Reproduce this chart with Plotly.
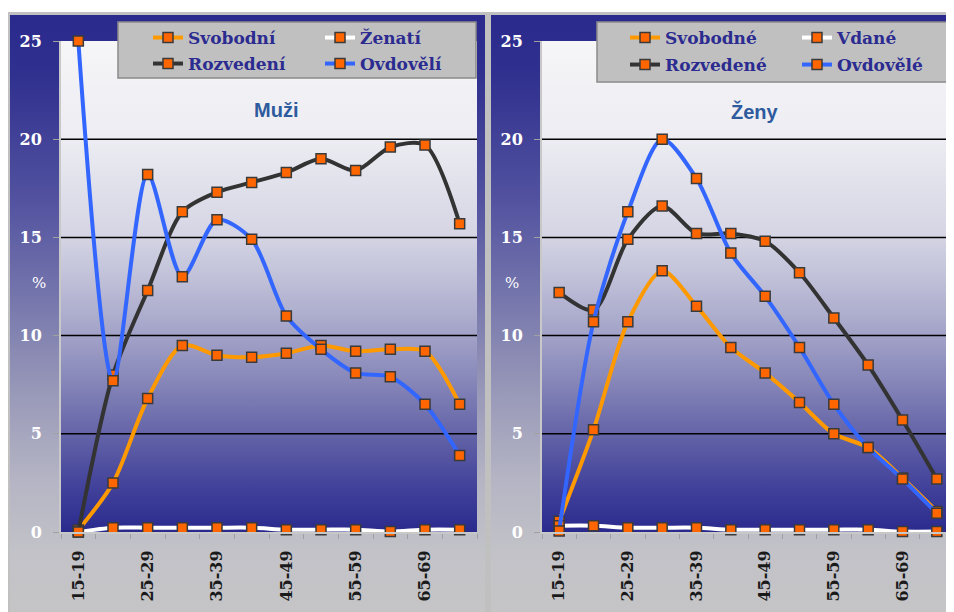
import base64
import plotly.graph_objects as go

# ---------------- data ----------------
categories = ["15-19", "20-24", "25-29", "30-34", "35-39", "40-44",
              "45-49", "50-54", "55-59", "60-64", "65-69", "70-74"]
tick_labels = ["15-19", "", "25-29", "", "35-39", "", "45-49", "", "55-59", "", "65-69", ""]
y_ticks = [0, 5, 10, 15, 20, 25]
grid_values = [5, 10, 15, 20]

muzi_svobodni = [0.1, 2.5, 6.8, 9.5, 9.0, 8.9, 9.1, 9.5, 9.2, 9.3, 9.2, 6.5]
muzi_zenati = [0.0, 0.22, 0.22, 0.22, 0.22, 0.22, 0.12, 0.12, 0.12, 0.02, 0.12, 0.12]
muzi_rozvedeni = [0.0, 8.0, 12.3, 16.3, 17.3, 17.8, 18.3, 19.0, 18.4, 19.6, 19.7, 15.7]
muzi_ovdoveli = [25.0, 7.7, 18.2, 13.0, 15.9, 14.9, 11.0, 9.3, 8.1, 7.9, 6.5, 3.9]

zeny_svobodne = [0.55, 5.2, 10.7, 13.3, 11.5, 9.4, 8.1, 6.6, 5.0, 4.3, 2.75, 1.05]
zeny_vdane = [0.32, 0.32, 0.22, 0.22, 0.22, 0.12, 0.12, 0.12, 0.12, 0.12, 0.02, 0.02]
zeny_rozvedene = [12.2, 11.3, 14.9, 16.6, 15.2, 15.2, 14.8, 13.2, 10.9, 8.5, 5.7, 2.7]
zeny_ovdovele = [0.05, 10.7, 16.3, 20.0, 18.0, 14.2, 12.0, 9.4, 6.5, 4.3, 2.7, 0.95]

names_muzi = ["Svobodní", "Ženatí", "Rozvedení", "Ovdovělí"]
names_zeny = ["Svobodné", "Vdané", "Rozvedené", "Ovdovělé"]
line_colors = ["#ff9900", "#ffffff", "#333333", "#3366ff"]

# ---------------- geometry (screen pixels) ----------------
W, H = 954, 612
OFF = 8          # page body margin: figure is drawn 8px right/down of the screen origin
P1 = (61, 477)
P2 = (542, 954)
TOP, BOT = 41, 532


def fx(x):
    return x - OFF


def fy(y):
    return y - OFF


def px(x):
    return fx(x) / W


def py(y):
    return (H - fy(y)) / H


# ---------------- background svg ----------------
outer_stops = [(0, "#2a2a8e"), (0.1, "#30308f"), (0.3, "#5252a0"), (0.45, "#7474ac"),
               (0.6, "#9696b8"), (0.75, "#b4b4c4"), (0.87, "#c2c2c8"), (1, "#c6c6c6")]
plot_stops = [(0, "#f6f6f8"), (0.2, "#ececf2"), (0.4, "#d4d4e4"), (0.5, "#bcbcd6"),
              (0.6, "#a2a2c8"), (0.7, "#8484b8"), (0.8, "#6464a8"), (0.9, "#44449c"),
              (1, "#2a2a8e")]


def grad(gid, stops):
    s = "".join(f'<stop offset="{o}" stop-color="{c}"/>' for o, c in stops)
    return f'<linearGradient id="{gid}" x1="0" y1="0" x2="0" y2="1">{s}</linearGradient>'


svg = (
    f'<svg xmlns="http://www.w3.org/2000/svg" width="{W}" height="{H}" '
    f'viewBox="0 0 {W} {H}" preserveAspectRatio="none">'
    f'<defs>{grad("outer", outer_stops)}{grad("plot", plot_stops)}</defs>'
    f'<rect width="{W}" height="{H}" fill="#ffffff"/>'
    f'<rect x="{fx(8.5)}" y="{fy(13.5)}" width="478" height="620" fill="url(#outer)" stroke="#c0c0c0" stroke-width="3"/>'
    f'<rect x="{fx(489.5)}" y="{fy(13.5)}" width="480" height="620" fill="url(#outer)" stroke="#c0c0c0" stroke-width="3"/>'
    f'<rect x="{fx(P1[0])}" y="{fy(TOP)}" width="{P1[1]-P1[0]}" height="{BOT-TOP}" fill="url(#plot)"/>'
    f'<rect x="{fx(P2[0])}" y="{fy(TOP)}" width="{P2[1]-P2[0]}" height="{BOT-TOP}" fill="url(#plot)"/>'
    '</svg>'
)
svg_uri = "data:image/svg+xml;base64," + base64.b64encode(svg.encode("utf-8")).decode("ascii")

# ---------------- figure ----------------
fig = go.Figure()

series_muzi = [muzi_svobodni, muzi_zenati, muzi_rozvedeni, muzi_ovdoveli]
series_zeny = [zeny_svobodne, zeny_vdane, zeny_rozvedene, zeny_ovdovele]
legend_ids_1 = ["legend", "legend", "legend2", "legend2"]
legend_ids_2 = ["legend3", "legend3", "legend4", "legend4"]

for vals, name, col, lg in zip(series_muzi, names_muzi, line_colors, legend_ids_1):
    fig.add_trace(go.Scatter(
        x=categories, y=vals, name=name, legend=lg, mode="lines+markers",
        line=dict(color=col, width=4, shape="spline", smoothing=0.8),
        marker=dict(symbol="square", size=10, color="#ff6600",
                    line=dict(color="#3a3a3a", width=1.5)),
        xaxis="x", yaxis="y", cliponaxis=False,
    ))
for vals, name, col, lg in zip(series_zeny, names_zeny, line_colors, legend_ids_2):
    fig.add_trace(go.Scatter(
        x=categories, y=vals, name=name, legend=lg, mode="lines+markers",
        line=dict(color=col, width=4, shape="spline", smoothing=0.8),
        marker=dict(symbol="square", size=10, color="#ff6600",
                    line=dict(color="#3a3a3a", width=1.5)),
        xaxis="x2", yaxis="y2", cliponaxis=False,
    ))

xaxis_common = dict(
    type="category", range=[-0.5, 11.5], tickmode="array",
    tickvals=categories, ticktext=tick_labels, tickson="boundaries",
    ticks="outside", ticklen=5, tickcolor="#a0a0a0", tickwidth=1,
    showline=True, linecolor="#c8c8c8", linewidth=2, showgrid=False,
    tickangle=-90, ticklabelstandoff=10,
    tickfont=dict(family="DejaVu Serif", size=16, color="#1a1a1a", weight="bold"),
    fixedrange=True,
)
yaxis_common = dict(
    range=[0, 25], tickmode="array", tickvals=y_ticks,
    ticks="outside", ticklen=6, tickcolor="#a0a0a0", tickwidth=1,
    showline=True, linecolor="#c8c8c8", linewidth=2, showgrid=False, zeroline=False,
    ticklabelstandoff=8,
    tickfont=dict(family="DejaVu Serif", size=16, color="#ffffff", weight="bold"),
    fixedrange=True,
)

legend_common = dict(
    orientation="h", bgcolor="rgba(0,0,0,0)", borderwidth=0,
    font=dict(family="DejaVu Serif", size=17, color="#2b2b90", weight="bold"),
    xanchor="left", yanchor="middle", entrywidthmode="pixels", entrywidth=127,
    itemwidth=30, itemclick=False, itemdoubleclick=False,
)

shapes = []
# legend boxes
shapes.append(dict(type="rect", xref="paper", yref="paper",
                   x0=px(118), x1=px(476), y0=py(78), y1=py(22),
                   fillcolor="#c0c0c0", line=dict(color="#8a8a8a", width=1.5), layer="below"))
shapes.append(dict(type="rect", xref="paper", yref="paper",
                   x0=px(597), x1=px(970), y0=py(82), y1=py(22),
                   fillcolor="#c0c0c0", line=dict(color="#8a8a8a", width=1.5), layer="below"))
# horizontal grid lines
for ax in ["y", "y2"]:
    for g in grid_values:
        shapes.append(dict(type="line", xref=("x domain" if ax == "y" else "x2 domain"), yref=ax,
                           x0=0, x1=1, y0=g, y1=g, line=dict(color="#000000", width=1.5),
                           layer="below"))

annotations = [
    dict(text="Muži", x=px(276), y=py(110), xref="paper", yref="paper", showarrow=False,
         xanchor="center", yanchor="middle",
         font=dict(family="Liberation Sans", size=20, color="#2e5a9e", weight="bold")),
    dict(text="Ženy", x=px(755), y=py(112), xref="paper", yref="paper", showarrow=False,
         xanchor="center", yanchor="middle",
         font=dict(family="Liberation Sans", size=20, color="#2e5a9e", weight="bold")),
    dict(text="%", x=px(30), y=12.7, xref="paper", yref="y", showarrow=False,
         font=dict(family="DejaVu Serif", size=15, color="#ffffff")),
    dict(text="%", x=px(512), y=12.7, xref="paper", yref="y2", showarrow=False,
         font=dict(family="DejaVu Serif", size=15, color="#ffffff")),
]

fig.update_layout(
    width=W, height=H, margin=dict(l=0, r=0, t=0, b=0, autoexpand=False),
    paper_bgcolor="#ffffff", plot_bgcolor="rgba(0,0,0,0)",
    xaxis=dict(domain=[px(P1[0]), px(P1[1])], anchor="y", **xaxis_common),
    yaxis=dict(domain=[py(BOT), py(TOP)], anchor="x", **yaxis_common),
    xaxis2=dict(domain=[px(P2[0]), px(P2[1])], anchor="y2", **xaxis_common),
    yaxis2=dict(domain=[py(BOT), py(TOP)], anchor="x2", **yaxis_common),
    legend=dict(x=px(148), y=py(38), **legend_common),
    legend2=dict(x=px(148), y=py(64), **legend_common),
    legend3=dict(x=px(625), y=py(38), **legend_common),
    legend4=dict(x=px(625), y=py(65), **legend_common),
    images=[dict(source=svg_uri, xref="paper", yref="paper", x=0, y=1, sizex=1, sizey=1,
                 sizing="stretch", layer="below", xanchor="left", yanchor="top")],
    shapes=shapes, annotations=annotations, showlegend=True,
)

fig.write_html("out.html")
